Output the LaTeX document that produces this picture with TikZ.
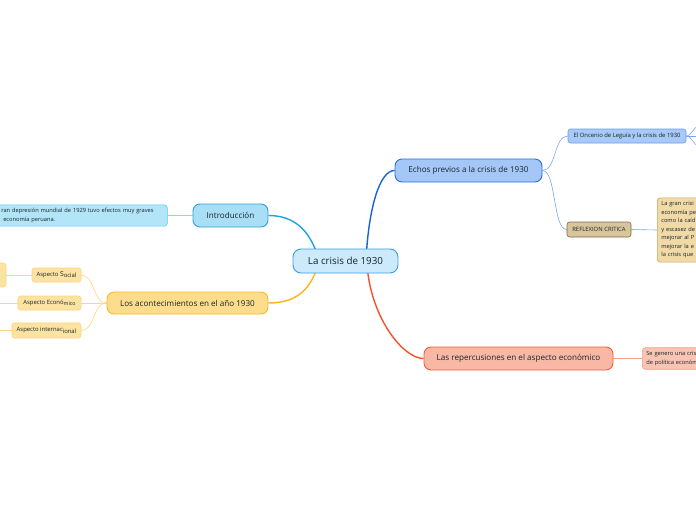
\documentclass[tikz,border=0pt]{standalone}
\usepackage{fontspec}
\setmainfont{Open Sans}
\usetikzlibrary{backgrounds}
\definecolor{txt}{HTML}{14242C}
\definecolor{cfill}{HTML}{CDEAFC}
\definecolor{cdraw}{HTML}{3A9BE6}
\definecolor{ifill}{HTML}{A8DEF6}
\definecolor{idraw}{HTML}{27A5DD}
\definecolor{iline}{HTML}{1BA3E0}
\definecolor{itfill}{HTML}{B3E5F9}
\definecolor{itdraw}{HTML}{62C6F0}
\definecolor{itline}{HTML}{8FD4F2}
\definecolor{afill}{HTML}{FDDD8C}
\definecolor{adraw}{HTML}{F8B925}
\definecolor{aline}{HTML}{FBB51C}
\definecolor{asfill}{HTML}{FDE3A2}
\definecolor{asdraw}{HTML}{FBD27A}
\definecolor{asline}{HTML}{FCD680}
\definecolor{efill}{HTML}{A5C7F7}
\definecolor{edraw}{HTML}{2A6EE0}
\definecolor{eline}{HTML}{1565D0}
\definecolor{ofill}{HTML}{A9C9F8}
\definecolor{odraw}{HTML}{6A9CEA}
\definecolor{oline}{HTML}{7AA6EE}
\definecolor{rfill}{HTML}{D9C59B}
\definecolor{rdraw}{HTML}{7C6A48}
\definecolor{rtfill}{HTML}{F2DAA7}
\definecolor{rtdraw}{HTML}{C8A560}
\definecolor{pfill}{HTML}{F9B8A5}
\definecolor{pdraw}{HTML}{EE5F39}
\definecolor{pline}{HTML}{F0532A}
\definecolor{ptfill}{HTML}{FAC4B5}
\definecolor{ptdraw}{HTML}{F1A08A}
\definecolor{ptline}{HTML}{F5A58E}
\newcommand\lowr[1]{\raisebox{-1.2pt}{#1}}
\tikzset{
  mainnode/.style={draw, line width=0.9pt, rounded corners=7pt, inner sep=0pt, font=\fontsize{8.1}{9}\selectfont, text=txt, align=center},
  centernode/.style={draw, line width=0.9pt, rounded corners=8pt, inner sep=0pt, font=\fontsize{9.8}{11}\selectfont, text=txt, align=center},
  subnode/.style={draw, line width=0.6pt, rounded corners=2.5pt, inner sep=0pt, font=\fontsize{5.9}{6.5}\selectfont, text=txt},
  textbox/.style={draw, line width=0.6pt, rounded corners=3pt, inner xsep=4pt, inner ysep=3.5pt, font=\fontsize{5.7}{8.5}\selectfont, text=txt, align=left, anchor=west},
  mainline/.style={line width=1.4pt},
  subline/.style={line width=0.6pt}
}
\begin{document}
\begin{tikzpicture}[x=1pt,y=-1pt]
\useasboundingbox (0,0) rectangle (696,520);
\clip (0,0) rectangle (696,520);
% nodes
\node[centernode, fill=cfill, draw=cdraw, minimum width=105pt, minimum height=24pt] (central) at (345.5,261) {La crisis de 1930};
\coordinate (cI) at ([xshift=24pt,yshift=-4pt]central.north west);
\coordinate (cA) at ([xshift=24pt,yshift=4pt]central.south west);
\coordinate (cE) at ([xshift=-32pt,yshift=-4pt]central.north east);
\coordinate (cP) at ([xshift=-31pt,yshift=4pt]central.south east);
\node[mainnode, fill=ifill, draw=idraw, minimum width=75pt, minimum height=23pt] (intro) at (230.5,215.5) {Introducción};
\node[textbox, fill=itfill, draw=itdraw, text width=162pt] (introtext) at (-3,215.5) {ran depresión mundial de 1929 tuvo efectos muy graves\\\hspace*{2pt}economía peruana.};
\node[mainnode, fill=afill, draw=adraw, minimum width=161pt, minimum height=22pt] (acont) at (187.5,303) {Los acontecimientos en el año 1930};
\node[subnode, fill=asfill, draw=asdraw, minimum width=49pt, minimum height=14pt] (asocial) at (56.5,275) {Aspecto {\fontsize{6.8}{7}\selectfont S}\lowr{ocial}};
\node[subnode, fill=asfill, draw=asdraw, minimum width=63pt, minimum height=14pt] (aecon) at (49.5,303) {Aspecto Econó\lowr{{\fontsize{5.3}{6}\selectfont mico}}};
\node[subnode, fill=asfill, draw=asdraw, minimum width=69pt, minimum height=15pt] (aint) at (46.5,330.5) {Aspecto internac\lowr{ional}};
\node[subnode, fill=asfill, draw=asdraw, minimum width=30pt, minimum height=24pt, rounded corners=3pt] (socchild) at (-9,275) {};
\coordinate (econchild) at (-5,303);
\coordinate (intchild) at (-5,330.5);
\node[mainnode, fill=efill, draw=edraw, minimum width=147pt, minimum height=23pt] (echos) at (468.5,170.5) {Echos previos a la crisis de 1930};
\node[subnode, fill=ofill, draw=odraw, minimum width=118pt, minimum height=14pt] (oncenio) at (627,136) {El Oncenio de Leguía y la crisis de 1930};
\coordinate (o1) at (700,125);
\coordinate (o2) at (700,136);
\coordinate (o3) at (700,147);
\node[subnode, fill=rfill, draw=rdraw, minimum width=64pt, minimum height=15pt] (reflex) at (599,229.5) {REFLEXION CRITICA};
\node[textbox, fill=rtfill, draw=rtdraw, text width=80pt, inner ysep=3.8pt] (reflextext) at (657,230) {La gran crisi\\economía pe\\como la caíd\\y escasez de\\mejorar al P\\mejorar la e\\la crisis que};
\node[mainnode, fill=pfill, draw=pdraw, minimum width=189pt, minimum height=23pt] (repercus) at (518.5,358.5) {Las repercusiones en el aspecto económico};
\node[textbox, fill=ptfill, draw=ptdraw, text width=80pt, inner ysep=3.5pt, font=\fontsize{5.7}{9}\selectfont] (reptext) at (642,358.5) {Se genero una cris\\de política económ};
% connectors
\begin{scope}[on background layer]
\draw[mainline, iline] (cI) .. controls +(-8,-22) and +(26,0) .. (intro.east);
\draw[mainline, aline] (cA) .. controls +(-8,22) and +(26,0) .. (acont.east);
\draw[mainline, eline] (cE) .. controls +(3,-45) and +(-15,0) .. (echos.west);
\draw[mainline, pline] (cP) .. controls +(5,50) and +(-20,0) .. (repercus.west);
\draw[subline, itline] (introtext.east) -- (intro.west);
\draw[subline, asline] (acont.west) .. controls +(-14,0) and +(14,0) .. (asocial.east);
\draw[subline, asline] (acont.west) -- (aecon.east);
\draw[subline, asline] (acont.west) .. controls +(-14,0) and +(14,0) .. (aint.east);
\draw[subline, asline] (asocial.west) -- (socchild.east);
\draw[subline, asline] (aecon.west) -- (econchild);
\draw[subline, asline] (aint.west) -- (intchild);
\draw[subline, oline] (echos.east) .. controls +(14,0) and +(-14,0) .. (oncenio.west);
\draw[subline, oline] (echos.east) .. controls +(14,0) and +(-14,0) .. (reflex.west);
\draw[subline, oline] (oncenio.east) .. controls +(5,0) and +(-5,0) .. (o1);
\draw[subline, oline] (oncenio.east) -- (o2);
\draw[subline, oline] (oncenio.east) .. controls +(5,0) and +(-5,0) .. (o3);
\draw[subline, oline] (reflex.east) -- (reflextext.west);
\draw[subline, ptline] (repercus.east) -- (reptext.west);
\end{scope}
\end{tikzpicture}
\end{document}
